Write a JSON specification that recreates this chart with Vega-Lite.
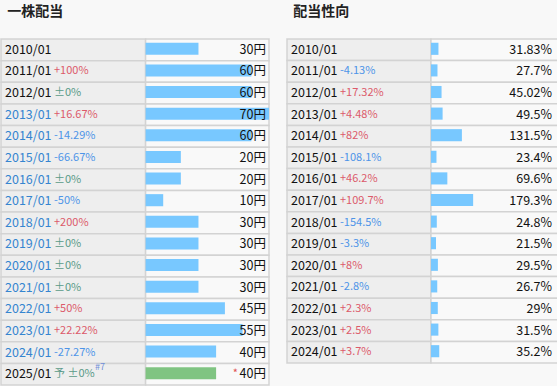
{
  "$schema": "https://vega.github.io/schema/vega-lite/v6.json",
  "background": "#f8f8f8",
  "padding": {"left": 0, "top": 5, "right": 0, "bottom": 0},
  "config": {
    "view": {"stroke": null},
    "font": "Noto Sans CJK JP",
    "title": {"font": "Noto Sans CJK JP", "fontSize": 14, "fontWeight": "bold", "anchor": "start", "color": "#222222", "dx": 7, "offset": 19},
    "text": {"font": "Noto Sans CJK JP"}
  },
  "datasets": {
    "dps": [
      {"date": "2010/01", "value": 30, "label": "30円", "change": "", "dir": "none", "linked": "no", "forecast": "no", "note": "", "mark": ""},
      {"date": "2011/01", "value": 60, "label": "60円", "change": "+100%", "dir": "up", "linked": "no", "forecast": "no", "note": "", "mark": ""},
      {"date": "2012/01", "value": 60, "label": "60円", "change": "±0%", "dir": "flat", "linked": "no", "forecast": "no", "note": "", "mark": ""},
      {"date": "2013/01", "value": 70, "label": "70円", "change": "+16.67%", "dir": "up", "linked": "yes", "forecast": "no", "note": "", "mark": ""},
      {"date": "2014/01", "value": 60, "label": "60円", "change": "-14.29%", "dir": "down", "linked": "yes", "forecast": "no", "note": "", "mark": ""},
      {"date": "2015/01", "value": 20, "label": "20円", "change": "-66.67%", "dir": "down", "linked": "yes", "forecast": "no", "note": "", "mark": ""},
      {"date": "2016/01", "value": 20, "label": "20円", "change": "±0%", "dir": "flat", "linked": "yes", "forecast": "no", "note": "", "mark": ""},
      {"date": "2017/01", "value": 10, "label": "10円", "change": "-50%", "dir": "down", "linked": "yes", "forecast": "no", "note": "", "mark": ""},
      {"date": "2018/01", "value": 30, "label": "30円", "change": "+200%", "dir": "up", "linked": "yes", "forecast": "no", "note": "", "mark": ""},
      {"date": "2019/01", "value": 30, "label": "30円", "change": "±0%", "dir": "flat", "linked": "yes", "forecast": "no", "note": "", "mark": ""},
      {"date": "2020/01", "value": 30, "label": "30円", "change": "±0%", "dir": "flat", "linked": "yes", "forecast": "no", "note": "", "mark": ""},
      {"date": "2021/01", "value": 30, "label": "30円", "change": "±0%", "dir": "flat", "linked": "yes", "forecast": "no", "note": "", "mark": ""},
      {"date": "2022/01", "value": 45, "label": "45円", "change": "+50%", "dir": "up", "linked": "yes", "forecast": "no", "note": "", "mark": ""},
      {"date": "2023/01", "value": 55, "label": "55円", "change": "+22.22%", "dir": "up", "linked": "yes", "forecast": "no", "note": "", "mark": ""},
      {"date": "2024/01", "value": 40, "label": "40円", "change": "-27.27%", "dir": "down", "linked": "yes", "forecast": "no", "note": "", "mark": ""},
      {"date": "2025/01", "value": 40, "label": "40円", "change": "予 ±0%", "dir": "flat", "linked": "no", "forecast": "yes", "note": "#7", "mark": "*"}
    ],
    "payout": [
      {"date": "2010/01", "value": 31.83, "label": "31.83%", "change": "", "dir": "none"},
      {"date": "2011/01", "value": 27.7, "label": "27.7%", "change": "-4.13%", "dir": "down"},
      {"date": "2012/01", "value": 45.02, "label": "45.02%", "change": "+17.32%", "dir": "up"},
      {"date": "2013/01", "value": 49.5, "label": "49.5%", "change": "+4.48%", "dir": "up"},
      {"date": "2014/01", "value": 131.5, "label": "131.5%", "change": "+82%", "dir": "up"},
      {"date": "2015/01", "value": 23.4, "label": "23.4%", "change": "-108.1%", "dir": "down"},
      {"date": "2016/01", "value": 69.6, "label": "69.6%", "change": "+46.2%", "dir": "up"},
      {"date": "2017/01", "value": 179.3, "label": "179.3%", "change": "+109.7%", "dir": "up"},
      {"date": "2018/01", "value": 24.8, "label": "24.8%", "change": "-154.5%", "dir": "down"},
      {"date": "2019/01", "value": 21.5, "label": "21.5%", "change": "-3.3%", "dir": "down"},
      {"date": "2020/01", "value": 29.5, "label": "29.5%", "change": "+8%", "dir": "up"},
      {"date": "2021/01", "value": 26.7, "label": "26.7%", "change": "-2.8%", "dir": "down"},
      {"date": "2022/01", "value": 29, "label": "29%", "change": "+2.3%", "dir": "up"},
      {"date": "2023/01", "value": 31.5, "label": "31.5%", "change": "+2.5%", "dir": "up"},
      {"date": "2024/01", "value": 35.2, "label": "35.2%", "change": "+3.7%", "dir": "up"}
    ]
  },
  "hconcat": [
    {
      "title": "一株配当",
      "width": 268,
      "height": 346,
      "data": {"name": "dps"},
      "encoding": {
        "y": {"field": "date", "type": "nominal", "sort": null, "axis": null, "scale": {"paddingInner": 0, "paddingOuter": 0}}
      },
      "resolve": {"scale": {"color": "independent", "fill": "independent"}},
      "layer": [
        {
          "mark": {"type": "rect", "fill": "#eeeeee", "stroke": "#d3d3d3", "strokeWidth": 1.5},
          "encoding": {"x": {"datum": -82, "type": "quantitative", "scale": {"domain": [-82, 70], "nice": false, "zero": false}, "axis": null}, "x2": {"datum": 0}}
        },
        {
          "mark": {"type": "rect", "fill": "#f9f9f9", "stroke": "#d3d3d3", "strokeWidth": 1.5},
          "encoding": {"x": {"datum": 0, "type": "quantitative"}, "x2": {"datum": 70}}
        },
        {
          "mark": {"type": "bar", "height": {"band": 0.56}, "yOffset": -1},
          "encoding": {
            "x": {"field": "value", "type": "quantitative"},
            "x2": {"datum": 0},
            "color": {"field": "forecast", "type": "nominal", "scale": {"domain": ["no", "yes"], "range": ["#78c8ff", "#80c482"]}, "legend": null}
          }
        },
        {
          "mark": {"type": "text", "align": "left", "baseline": "middle", "dx": 4, "fontSize": 12.5},
          "encoding": {
            "x": {"datum": -82, "type": "quantitative"},
            "text": {"field": "date"},
            "color": {"field": "linked", "type": "nominal", "scale": {"domain": ["no", "yes"], "range": ["#111111", "#3585d0"]}, "legend": null}
          }
        },
        {
          "mark": {"type": "text", "align": "left", "baseline": "middle", "dx": 53, "fontSize": 11},
          "encoding": {
            "x": {"datum": -82, "type": "quantitative"},
            "text": {"field": "change"},
            "fill": {"field": "dir", "type": "nominal", "scale": {"domain": ["none", "up", "down", "flat"], "range": ["#111111", "#dc5a6a", "#4d94e8", "#5a9a88"]}, "legend": null}
          }
        },
        {
          "mark": {"type": "text", "align": "left", "baseline": "middle", "dx": 94, "dy": -7, "fontSize": 9, "color": "#6f8fd8"},
          "encoding": {"x": {"datum": -82, "type": "quantitative"}, "text": {"field": "note"}}
        },
        {
          "mark": {"type": "text", "align": "right", "baseline": "middle", "dx": -3, "fontSize": 12.5, "color": "#111111"},
          "encoding": {"x": {"datum": 70, "type": "quantitative"}, "text": {"field": "label"}}
        },
        {
          "mark": {"type": "text", "align": "right", "baseline": "middle", "dx": -31, "fontSize": 11, "color": "#e05050"},
          "encoding": {"x": {"datum": 70, "type": "quantitative"}, "text": {"field": "mark"}}
        }
      ]
    },
    {
      "title": "配当性向",
      "width": 271,
      "height": 324,
      "data": {"name": "payout"},
      "encoding": {
        "y": {"field": "date", "type": "nominal", "sort": null, "axis": null, "scale": {"paddingInner": 0, "paddingOuter": 0}}
      },
      "layer": [
        {
          "mark": {"type": "rect", "fill": "#eeeeee", "stroke": "#d3d3d3", "strokeWidth": 1.5},
          "encoding": {"x": {"datum": -612, "type": "quantitative", "scale": {"domain": [-612, 540], "nice": false, "zero": false}, "axis": null}, "x2": {"datum": 0}}
        },
        {
          "mark": {"type": "rect", "fill": "#f9f9f9", "stroke": "#d3d3d3", "strokeWidth": 1.5},
          "encoding": {"x": {"datum": 0, "type": "quantitative"}, "x2": {"datum": 540}}
        },
        {
          "mark": {"type": "bar", "height": {"band": 0.56}, "yOffset": -1, "color": "#78c8ff"},
          "encoding": {"x": {"field": "value", "type": "quantitative"}, "x2": {"datum": 0}}
        },
        {
          "mark": {"type": "text", "align": "left", "baseline": "middle", "dx": 4, "fontSize": 12.5, "color": "#111111"},
          "encoding": {"x": {"datum": -612, "type": "quantitative"}, "text": {"field": "date"}}
        },
        {
          "mark": {"type": "text", "align": "left", "baseline": "middle", "dx": 53, "fontSize": 11},
          "encoding": {
            "x": {"datum": -612, "type": "quantitative"},
            "text": {"field": "change"},
            "fill": {"field": "dir", "type": "nominal", "scale": {"domain": ["none", "up", "down", "flat"], "range": ["#111111", "#dc5a6a", "#4d94e8", "#5a9a88"]}, "legend": null}
          }
        },
        {
          "mark": {"type": "text", "align": "right", "baseline": "middle", "dx": -6, "fontSize": 12.5, "color": "#111111"},
          "encoding": {"x": {"datum": 540, "type": "quantitative"}, "text": {"field": "label"}}
        }
      ]
    }
  ],
  "spacing": 16
}
